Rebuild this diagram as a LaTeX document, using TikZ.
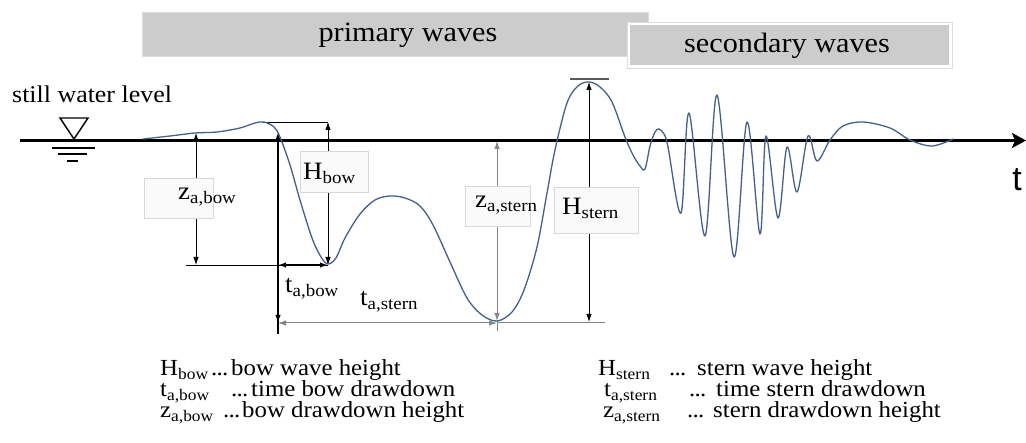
\documentclass[tikz,border=0pt]{standalone}
\usepackage{fontspec}
\setmainfont{Liberation Serif}[FakeStretch=1.08]
\newfontfamily\axisfont{Liberation Sans}
\usetikzlibrary{arrows.meta}
\definecolor{boxgray}{HTML}{CCCCCC}
\definecolor{boxedge}{HTML}{DDDDDD}
\definecolor{lblfill}{HTML}{FAFAFA}
\definecolor{lbledge}{HTML}{D8D8D8}
\definecolor{wavecol}{HTML}{465F8C}
\definecolor{dimgray}{HTML}{858585}
\newcommand\wsub[2]{#1\textsubscript{#2}}
\newcommand\tdots{.\kern-0.8pt.\kern-0.8pt.}
\begin{document}
\begin{tikzpicture}[x=1pt,y=-1pt,
  lbl/.style={inner sep=0pt, anchor=base west, font=\fontsize{25}{30}\selectfont},
  leg/.style={inner sep=0pt, anchor=base west, text height=14pt, text depth=4pt,
    font=\fontsize{23}{27}\selectfont},
  ttl/.style={inner sep=0pt, anchor=base, font=\fontsize{28}{34}\selectfont},
  tipb/.tip={Latex[length=8pt,width=5.5pt]},
  dimline/.style={tipb-tipb, line width=0.8pt},
  graydim/.style={tipb-tipb, line width=1pt, draw=dimgray},
  lblbox/.style={fill=lblfill, draw=lbledge, line width=0.8pt},
  wave/.style={draw=wavecol, line width=1.3pt, line join=round}]
\path[use as bounding box, fill=white] (0,0) rectangle (1026,443);

% header boxes
\draw[draw=boxedge, fill=boxgray, line width=0.8pt] (142,12) rectangle (648,56);
\node[ttl] (prim) at (408,42) {primary waves};
\draw[draw=boxedge, fill=white, line width=0.8pt] (627,22) rectangle (952,68);
\fill[boxgray] (630,25) rectangle (949,65);
\node[ttl] (sec) at (787,53) {secondary waves};

% still water level
\node[inner sep=0pt, anchor=base west, font=\fontsize{24}{28}\selectfont] (swl) at (12,103) {still water level};
\draw[line width=1.4pt, line join=miter] (60,118) -- (88,118) -- (74,139) -- cycle;
\draw[line width=1.2pt] (52,148) -- (95,148);
\draw[line width=1.2pt] (58,154) -- (87,154);
\draw[line width=1.2pt] (67,161) -- (78,161);

% time axis
\coordinate (ax0) at (20,140.5);
\coordinate (ax1) at (1026,140.5);
\draw[line width=2.6pt, -{Stealth[length=14pt,width=15pt,inset=3pt]}] (ax0) -- (ax1);
\node[inner sep=0pt, font=\axisfont\fontsize{34}{40}\selectfont] (tlab) at (1017,180) {t};

% key points
\coordinate (zbtop) at (196,133);
\coordinate (zbbot) at (196,265);
\coordinate (hl) at (186,265);
\coordinate (bowpk) at (263,122);
\coordinate (tr1) at (328,265);
\coordinate (hbtop) at (328,122);
\coordinate (t0top) at (278,132);
\coordinate (t0mid) at (278,265);
\coordinate (t0pre) at (278,310);
\coordinate (t0bot) at (278,323);
\coordinate (t0end) at (278,334);
\coordinate (tr2) at (497,323);
\coordinate (tr2end) at (605,323);
\coordinate (zstop) at (497,141);
\coordinate (zsbot) at (497,321);
\coordinate (zsend) at (497,331);
\coordinate (hstop) at (589,82);
\coordinate (hsbot) at (589,322);
\coordinate (barl) at (570,79);
\coordinate (barr) at (609,79);

% dimension lines
\draw[dimline] (zbtop) -- (zbbot);
\draw[line width=0.8pt] (hl) -- (tr1);
\draw[tipb-tipb, line width=1.6pt] (t0mid) -- (tr1);
\draw[line width=1.8pt, -tipb] (t0end) -- (t0top);
\draw[line width=1.8pt, -tipb] (t0pre) -- (t0bot);
\draw[line width=0.8pt] (bowpk) -- (hbtop);
\draw[dimline] (hbtop) -- (tr1);
\draw[graydim] (t0bot) -- (tr2);
\draw[line width=1pt, draw=dimgray] (tr2) -- (tr2end);
\draw[graydim] (zstop) -- (zsbot);
\draw[line width=1pt, draw=dimgray] (zsbot) -- (zsend);
\draw[dimline] (hstop) -- (hsbot);
\draw[line width=1.6pt, draw=black!65] (barl) -- (barr);

% label boxes
\draw[lblbox] (144,178) rectangle (213,218);
\draw[lblbox] (300,151) rectangle (368,192);
\draw[lblbox] (465,186) rectangle (530,226);
\draw[lblbox] (554,187) rectangle (638,233);

% labels
\node[lbl] (zab) at (178,200) {\wsub{z}{a,bow}};
\node[lbl] (hb) at (303,180) {\wsub{H}{bow}};
\node[lbl] (tab) at (285,293) {\wsub{t}{a,bow}};
\node[lbl] (tas) at (360,306) {\wsub{t}{a,stern}};
\node[lbl] (zas) at (475,208) {\wsub{z}{a,stern}};
\node[lbl] (hs) at (562,215) {\wsub{H}{stern}};

% wave record
\draw[wave] plot[smooth, tension=0.55] coordinates {
 (143,139) (170,136) (195,133) (217,132) (240,128) (255,123) (264,122)
 (274,127) (280,137) (290,165) (300,200) (312,238) (321,257) (328,264)
 (336,258) (345,238) (360,214) (375,200) (390,196) (405,198) (420,206)
 (433,225) (450,262) (467,298) (482,315) (497,321) (512,312) (524,290)
 (537,247) (547,193) (555,150) (567,103) (578,86) (589,82) (600,87)
 (612,102) (625,137) (633,155) (640,166) (645,169) (650,146) (655,132)
 (659,129) (664,134) (668,147) (681,213) (689,113) (705,236) (717,95)
 (734,257) (747,122) (760,234) (766,136) (778,218) (787,147) (797,192)
 (808,136) (817,161) (830,140) (843,126) (863,122) (890,128) (910,140)
 (932,146) (953,139)};

% legend
\node[leg] (l1s) at (160,376) {\wsub{H}{bow}};
\node[leg] (l1d) at (211,376) {\tdots};
\node[leg] (l1t) at (231,376) {bow wave height};
\node[leg] (l2s) at (160,397) {\wsub{t}{a,bow}};
\node[leg] (l2d) at (231,397) {\tdots};
\node[leg] (l2t) at (251,397) {time bow drawdown};
\node[leg] (l3s) at (160,418) {\wsub{z}{a,bow}};
\node[leg] (l3d) at (223,418) {\tdots};
\node[leg] (l3t) at (242,418) {bow drawdown height};
\node[leg] (r1s) at (598,376) {\wsub{H}{stern}};
\node[leg] (r1d) at (669,376) {\tdots};
\node[leg] (r1t) at (697,376) {stern wave height};
\node[leg] (r2s) at (604,397) {\wsub{t}{a,stern}};
\node[leg] (r2d) at (689,397) {\tdots};
\node[leg] (r2t) at (716,397) {time stern drawdown};
\node[leg] (r3s) at (603,418) {\wsub{z}{a,stern}};
\node[leg] (r3d) at (687,418) {\tdots};
\node[leg] (r3t) at (713,418) {stern drawdown height};
\end{tikzpicture}
\end{document}
